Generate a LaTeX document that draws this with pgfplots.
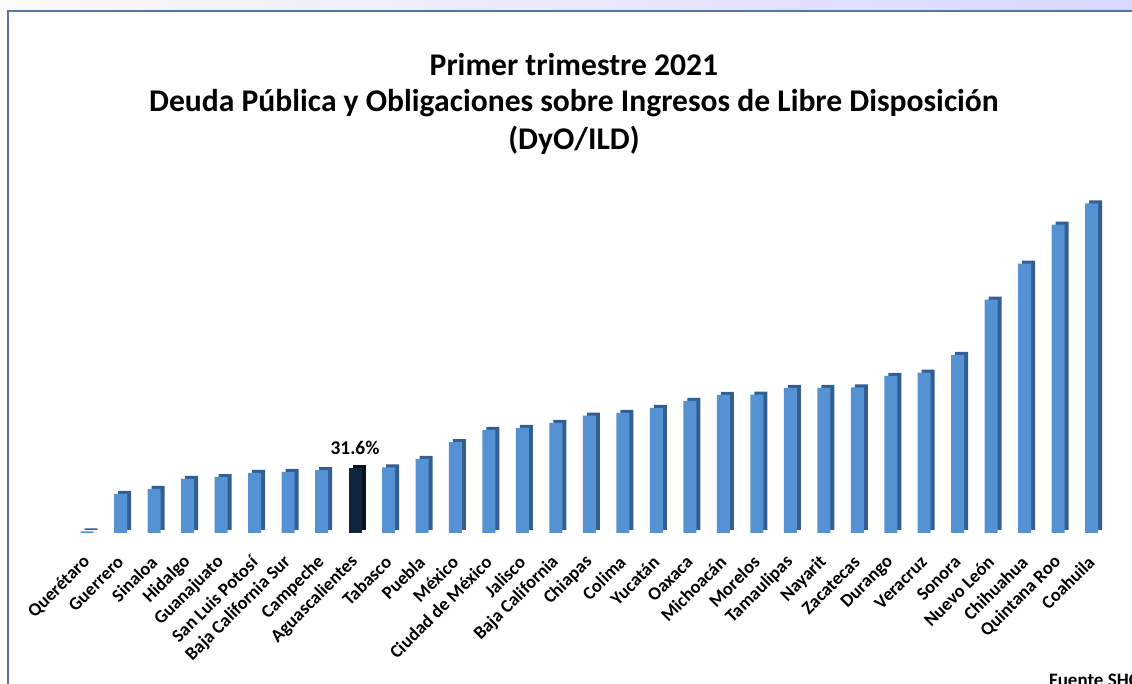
\documentclass[border=0pt]{standalone}
\usepackage{pgfplots}
\pgfplotsset{compat=1.18}
\usepackage{fontspec}
\setmainfont{Carlito}
\definecolor{barfront}{RGB}{84,146,212}
\definecolor{barside}{RGB}{50,94,148}
\definecolor{hifront}{RGB}{16,36,62}
\definecolor{hiside}{RGB}{6,16,30}
\definecolor{framecol}{RGB}{90,115,165}

\pgfplotstableread{
x y
0 0.8
1 19.0
2 21.4
3 26.3
4 27.2
5 29.2
6 29.7
7 30.6
9 31.9
10 36.0
11 44.2
12 50.1
13 51.1
14 53.5
15 57.0
16 58.4
17 60.8
18 64.2
19 67.1
20 67.3
21 70.5
22 70.6
23 70.8
24 76.4
25 77.9
26 86.6
27 113.4
28 130.9
29 149.9
30 160.2
}\states
\pgfplotstableread{
x y
8 31.6
}\ags

\begin{document}
\begin{tikzpicture}
\path[use as bounding box] (0,0) rectangle (566pt,342pt);
\shade[left color=gray!4, right color=blue!16] (0,336.5pt) rectangle (566pt,342pt);
\draw[framecol, line width=1pt] (4pt,-10pt) -- (4pt,336.5pt) -- (600pt,336.5pt);
\node[font=\bfseries\fontsize{15.8}{18}\selectfont] at (287pt,309.5pt) {Primer trimestre 2021};
\node[font=\bfseries\fontsize{15.8}{18}\selectfont] at (287pt,290.5pt) {Deuda Pública y Obligaciones sobre Ingresos de Libre Disposición};
\node[font=\bfseries\fontsize{15.8}{18}\selectfont] at (287pt,272pt) {(DyO/ILD)};
\node[font=\bfseries\fontsize{9.5}{11}\selectfont, anchor=west] at (521pt,2pt) {Fuente SHCP};
\begin{axis}[
    at={(26.86pt,75.5pt)}, anchor=south west,
    scale only axis,
    width=535.7pt, height=174.85pt,
    xmin=-1, xmax=31, ymin=0, ymax=170,
    axis line style={draw=none},
    ytick=\empty,
    xtick={0,...,30},
    major tick length=0pt,
    xticklabels={Querétaro,Guerrero,Sinaloa,Hidalgo,Guanajuato,San Luis Potosí,Baja California Sur,Campeche,Aguascalientes,Tabasco,Puebla,México,Ciudad de México,Jalisco,Baja California,Chiapas,Colima,Yucatán,Oaxaca,Michoacán,Morelos,Tamaulipas,Nayarit,Zacatecas,Durango,Veracruz,Sonora,Nuevo León,Chihuahua,Quintana Roo,Coahuila},
    xticklabel style={rotate=45, anchor=east, inner sep=0pt, font=\bfseries\fontsize{9.2}{10}\selectfont},
    xticklabel shift=13pt,
    clip=false,
]
% side faces
\addplot[ybar, bar width=6.5pt, bar shift=0pt, fill=barside, draw=none, xshift=2pt, yshift=1.5pt] table {\states};
\addplot[ybar, bar width=6.5pt, bar shift=0pt, fill=hiside, draw=none, xshift=2pt, yshift=1.5pt] table {\ags};
% front faces
\addplot[ybar, bar width=6.5pt, bar shift=0pt, fill=barfront, draw=none] table {\states};
\addplot[ybar, bar width=6.5pt, bar shift=0pt, fill=hifront, draw=none,
    nodes near coords={31.6\%}, nodes near coords style={font=\bfseries\fontsize{9.7}{11}\selectfont, text=black, anchor=south, yshift=3pt}] table {\ags};
\end{axis}
\end{tikzpicture}
\end{document}
